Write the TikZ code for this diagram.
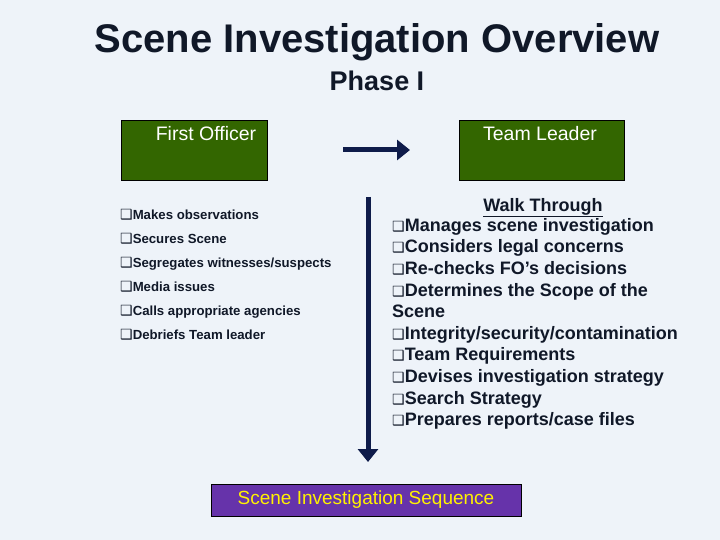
\documentclass[tikz,border=0pt]{standalone}
\usepackage{fontspec}
\setmainfont{Liberation Sans}
\newfontfamily\symf{DejaVu Sans}
\usetikzlibrary{arrows.meta}
\definecolor{navy}{HTML}{0E1B4A}
\definecolor{txt}{HTML}{101828}
\definecolor{grn}{HTML}{336600}
\definecolor{purp}{HTML}{6633AA}
\definecolor{bg}{HTML}{EEF3F9}
\newcommand{\bx}{{\symf\fontsize{14}{14}\selectfont ❑}}
\begin{document}
\begin{tikzpicture}[x=1pt,y=-1pt,
  gbox/.style={draw=black,fill=grn,minimum width=146pt,minimum height=60pt,anchor=north west,inner sep=0pt},
  glabel/.style={text=white,font=\fontsize{19.5}{19.5}\selectfont},
  arr/.style={draw=navy,line width=5pt,-{Triangle[length=13pt,width=20pt]}}]
\fill[bg] (0,0) rectangle (720,540);
\useasboundingbox (0,0) rectangle (720,540);
\node[font=\bfseries\fontsize{40}{40}\selectfont,text=txt] (title) at (377,42) {Scene Investigation Overview};
\node[font=\bfseries\fontsize{27}{27}\selectfont,text=txt] (phase) at (377,81) {Phase I};
\node[gbox] (fo) at (121,120) {};
\node[glabel] (fol) at (206,134) {First Officer};
\node[gbox,minimum width=165pt] (tl) at (459,120) {};
\node[glabel] (tll) at (540,134) {Team Leader};
\coordinate (h1) at (343,150); \coordinate (h2) at (410,150);
\draw[arr] (h1) -- (h2);
\coordinate (v1) at (368,197); \coordinate (v2) at (368,462);
\draw[arr] (v1) -- (v2);
\node[anchor=north west,text=txt,font=\bfseries\fontsize{13.2}{24}\selectfont,align=left,inner sep=0pt] (left) at (120,209) {%
\bx Makes observations\\ \bx Secures Scene\\ \bx Segregates witnesses/suspects\\ \bx Media issues\\ \bx Calls appropriate agencies\\ \bx Debriefs Team leader};
\node[anchor=north,text=txt,font=\bfseries\fontsize{18}{18}\selectfont,inner sep=0pt] (wt) at (543,198) {\underline{Walk Through}};
\node[anchor=north west,text=txt,font=\bfseries\fontsize{18}{21.6}\selectfont,align=left,inner sep=0pt] (right) at (392,218) {%
\bx Manages scene investigation\\ \bx Considers legal concerns\\ \bx Re-checks FO’s decisions\\ \bx Determines the Scope of the\\ Scene\\ \bx Integrity/security/contamination\\ \bx Team Requirements\\ \bx Devises investigation strategy\\ \bx Search Strategy\\ \bx Prepares reports/case files};
\node[draw=black,fill=purp,minimum width=310pt,minimum height=32pt,anchor=north west,inner sep=0pt] (seq) at (211,484) {};
\node[text=yellow,font=\fontsize{19}{19}\selectfont] (seql) at (366,500) {Scene Investigation Sequence};
\end{tikzpicture}
\end{document}
